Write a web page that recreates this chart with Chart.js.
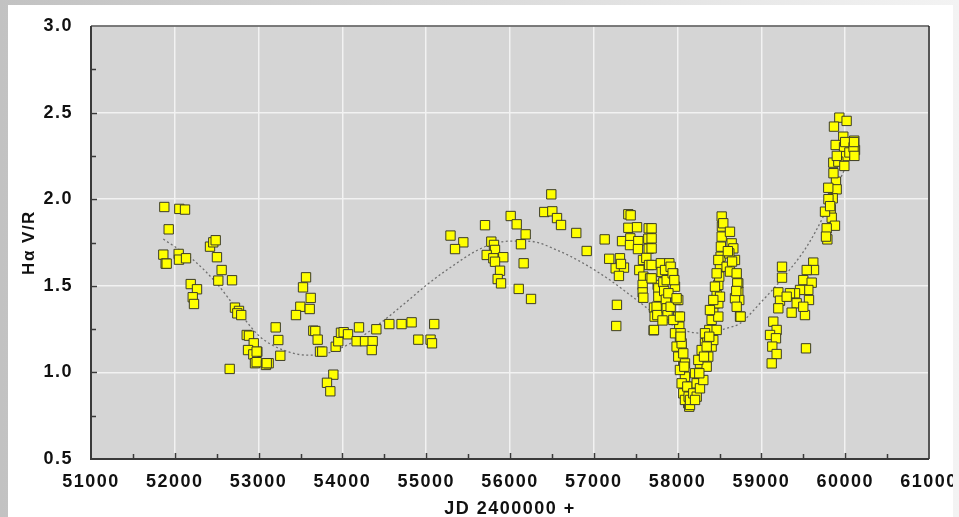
<!DOCTYPE html>
<html>
<head>
<meta charset="utf-8">
<script src="https://cdn.jsdelivr.net/npm/chart.js@4.4.1/dist/chart.umd.min.js"></script>
<style>
    html, body {
        margin: 0;
        padding: 0;
        width: 959px;
        height: 517px;
        overflow: hidden;
        background: linear-gradient(to right, #c2c2c2, #f3f3f3);
    }
    #panel {
        position: absolute;
        left: 8px;
        top: 5px;
        width: 945px;
        height: 512px;
        background: #ffffff;
    }
</style>
</head>
<body>
<div id="panel"><canvas id="vrChart" width="945" height="512"></canvas></div>
<script>
// Hα V/R measurements (JD - 2400000, V/R ratio)
const obsJd = [
    // 2001-2004
    51875, 52054, 52122, 51927, 51863, 51891, 51903, 52046, 52050, 52134,
    52190, 52265, 52214, 52229, 52420, 52459, 52488, 52503, 52559, 52519,
    52683, 52718, 52766, 52746, 52793, 52655, 52858, 52885, 52942, 52874,
    52985, 52937, 52957, 52977, 53088, 53120, 53235, 53204, 53259, 52977, 53097,
    // 2005-2010
    53566, 53530, 53622, 53498, 53610, 53446, 53653, 53677, 53705, 53733,
    53760, 53892, 53816, 53856, 53920, 53951, 53983, 54015, 54067, 54198,
    54170, 54270, 54361, 54350, 54405, 54560, 54706, 54826, 54906, 55052,
    55069, 55096, 55290,
    // 2010-2015
    55443, 55344, 55702, 55777, 55809, 55821, 55722, 55801, 55920, 55821,
    55881, 55853, 55893, 56008, 56080, 56187, 56131, 56163, 56104, 56251,
    56493, 56409, 56505, 56561, 56609, 56791, 56915, 57130,
    // 2015-2017
    57412, 57440, 57412, 57516, 57655, 57337, 57436, 57432, 57531, 57527,
    57651, 57655, 57184, 57312, 57261, 57360, 57300, 57324, 57587, 57627,
    57659, 57543, 57591, 57671, 57583, 57583, 57591, 57762, 57718, 57750,
    57726, 57276, 57268, 57714, 57797, 57690, 57690, 57690, 57690, 57690,
    57770, 57770, 57750, 57758, 57718, 57800, 57810, 57830, 57840, 57860,
    57870, 57880, 57820,
    // 2017-2019 dip, descending side
    57901, 57949, 57969, 57988, 58008, 58020, 58028, 58048, 58060, 58068,
    58088, 58100, 58108, 58127, 58139,
    57850, 57870, 57890, 57917, 57949, 57969, 57988, 58008, 58028, 58048,
    58068, 58088,
    58008, 58028, 58036, 58048, 58068, 58088,
    57917, 57941, 57961, 57988, 58036, 58080, 58116, 58132, 58148,
    // rising side
    58148, 58187, 58228, 58247, 58267, 58299, 58327, 58355, 58378, 58406,
    58426, 58446, 58466, 58486, 58497, 58505, 58513, 58517, 58526, 58529, 58526,
    58228, 58267, 58307, 58347, 58366, 58406, 58426, 58466, 58486, 58486, 58506,
    58208, 58247, 58287, 58327, 58386, 58426, 58446, 58466, 58486,
    58208, 58259, 58315, 58347, 58378,
    // second maximum
    58545, 58625, 58645, 58665, 58685, 58617, 58585, 58625, 58705, 58724,
    58724, 58736, 58685, 58705, 58745, 58712, 58752, 58600, 58650, 58700,
    // 2020-2021
    59246, 59246, 59619, 59628, 59541, 59500, 59600, 59560, 59568, 59461,
    59401, 59421, 59361, 59520, 59500, 59202, 59222, 59202, 59142, 59182,
    59103, 59174, 59130, 59182, 59123, 59532, 59341, 59302,
    // 2022-2023
    59930, 60017, 59866, 59977, 60108, 60117, 59886, 59986, 59998, 59858,
    59918, 59990, 59890, 59898, 59798, 59851, 59827, 59839, 59759, 59878,
    59779, 59787, 59771, 59800, 59820, 59860, 59900, 60000, 60050, 60100,
    60110, 60105
];
const obsVr = [
    1.955, 1.944, 1.940, 1.826, 1.680, 1.628, 1.628, 1.684, 1.651, 1.659,
    1.510, 1.480, 1.434, 1.395, 1.726, 1.751, 1.763, 1.665, 1.591, 1.530,
    1.532, 1.374, 1.355, 1.341, 1.331, 1.020, 1.216, 1.212, 1.168, 1.129,
    1.119, 1.104, 1.053, 1.059, 1.043, 1.053, 1.187, 1.260, 1.096, 1.120, 1.053,
    1.549, 1.491, 1.430, 1.379, 1.366, 1.331, 1.241, 1.239, 1.189, 1.120,
    1.120, 0.987, 0.940, 0.891, 1.148, 1.180, 1.229, 1.232, 1.220, 1.260,
    1.180, 1.180, 1.180, 1.129, 1.249, 1.279, 1.279, 1.289, 1.189, 1.189,
    1.168, 1.279, 1.790,
    1.751, 1.712, 1.850, 1.755, 1.736, 1.707, 1.678, 1.659, 1.665, 1.639,
    1.587, 1.539, 1.514, 1.903, 1.855, 1.797, 1.740, 1.630, 1.482, 1.424,
    2.028, 1.926, 1.930, 1.891, 1.851, 1.805, 1.701, 1.768,
    1.913, 1.907, 1.835, 1.838, 1.832, 1.758, 1.774, 1.735, 1.758, 1.712,
    1.772, 1.714, 1.656, 1.659, 1.601, 1.605, 1.557, 1.626, 1.649, 1.661,
    1.620, 1.591, 1.553, 1.543, 1.505, 1.462, 1.431, 1.505, 1.374, 1.331,
    1.322, 1.390, 1.268, 1.243, 1.437, 1.832, 1.774, 1.716, 1.620, 1.543,
    1.485, 1.437, 1.379, 1.331, 1.245, 1.630, 1.580, 1.520, 1.470, 1.420,
    1.370, 1.330, 1.300,
    1.630, 1.572, 1.495, 1.418, 1.322, 1.264, 1.206, 1.149, 1.091, 1.033,
    0.975, 0.918, 0.860, 0.822, 0.802,
    1.591, 1.533, 1.457, 1.379, 1.303, 1.226, 1.149, 1.091, 1.014, 0.937,
    0.879, 0.841,
    1.418, 1.322, 1.226, 1.168, 1.110, 1.052,
    1.610, 1.572, 1.533, 1.428, 1.206, 1.033, 0.918, 0.860, 0.812,
    0.841, 0.879, 0.937, 0.995, 1.052, 1.110, 1.168, 1.206, 1.245, 1.303,
    1.360, 1.399, 1.447, 1.505, 1.553, 1.610, 1.668, 1.726, 1.784, 1.842, 1.900,
    0.860, 0.908, 0.956, 1.033, 1.091, 1.149, 1.187, 1.245, 1.322, 1.399, 1.437,
    0.995, 1.072, 1.129, 1.226, 1.360, 1.418, 1.495, 1.572, 1.649,
    0.841, 0.995, 1.091, 1.149, 1.206,
    1.861, 1.812, 1.745, 1.716, 1.649, 1.687, 1.610, 1.582, 1.572, 1.514,
    1.466, 1.418, 1.428, 1.379, 1.322, 1.514, 1.322, 1.700, 1.640, 1.470,
    1.610, 1.547, 1.634, 1.591, 1.591, 1.533, 1.518, 1.476, 1.418, 1.476,
    1.457, 1.399, 1.345, 1.331, 1.379, 1.462, 1.414, 1.370, 1.293, 1.245,
    1.216, 1.197, 1.149, 1.106, 1.052, 1.139, 1.457, 1.437,
    2.471, 2.452, 2.419, 2.361, 2.338, 2.284, 2.313, 2.300, 2.249, 2.211,
    2.217, 2.192, 2.101, 2.057, 2.066, 2.005, 1.943, 1.893, 1.928, 1.847,
    1.832, 1.768, 1.784, 2.000, 1.960, 2.150, 2.250, 2.330, 2.270, 2.300,
    2.250, 2.330
];

// smooth fitted trend (dotted curve)
const fitJd = [51863, 52221, 52500, 52778, 53017, 53295, 53574, 53812, 54130, 54449,
    54767, 55006, 55245, 55682, 56000, 56239, 56557, 56875, 57193, 57512,
    57750, 58068, 58307, 58586, 58745, 58983, 59302, 59541, 59739, 59898, 60097];
const fitVr = [1.770, 1.649, 1.514, 1.341, 1.206, 1.129, 1.100, 1.110, 1.177, 1.283,
    1.408, 1.505, 1.591, 1.722, 1.758, 1.757, 1.707, 1.630, 1.533, 1.418,
    1.331, 1.245, 1.226, 1.255, 1.283, 1.399, 1.572, 1.726, 1.900, 2.072, 2.280];

const xMin = 51000, xMax = 61000, xStep = 500;
const yMin = 0.5, yMax = 3.0, yStep = 0.25;

const tickFont = { family: "'Liberation Sans', Arial, sans-serif", size: 18, weight: 'bold' };

// grey plot background, frame and inward tick marks
const framePlugin = {
    id: 'frame',
    beforeDraw(chart) {
        const { ctx, chartArea: a } = chart;
        ctx.letterSpacing = '1.5px';
        ctx.save();
        ctx.fillStyle = '#d5d5d5';
        ctx.fillRect(a.left, a.top, a.right - a.left, a.bottom - a.top);
        ctx.restore();
    },
    afterDraw(chart) {
        const { ctx, chartArea: a, scales } = chart;
        ctx.save();
        ctx.strokeStyle = '#3a3a3a';
        ctx.lineWidth = 1.5;
        scales.x.ticks.forEach(t => {
            if (t.value <= xMin || t.value >= xMax) return;
            const px = Math.round(scales.x.getPixelForValue(t.value)) + 0.5;
            const len = t.value % 1000 === 0 ? 6 : 5;
            ctx.beginPath();
            ctx.moveTo(px, a.bottom);
            ctx.lineTo(px, a.bottom - len);
            ctx.stroke();
        });
        scales.y.ticks.forEach(t => {
            if (t.value <= yMin || t.value >= yMax) return;
            const py = Math.round(scales.y.getPixelForValue(t.value)) + 0.5;
            const len = Math.abs(t.value * 2 - Math.round(t.value * 2)) < 1e-6 ? 6 : 5;
            ctx.beginPath();
            ctx.moveTo(a.left, py);
            ctx.lineTo(a.left + len, py);
            ctx.stroke();
        });
        // top and right edges
        ctx.lineWidth = 1.5;
        ctx.strokeStyle = '#555555';
        ctx.beginPath();
        ctx.moveTo(a.left, a.top);
        ctx.lineTo(a.right, a.top);
        ctx.stroke();
        ctx.strokeStyle = '#222222';
        ctx.beginPath();
        ctx.moveTo(a.right, a.top);
        ctx.lineTo(a.right, a.bottom);
        ctx.stroke();
        // left and bottom axes
        ctx.lineWidth = 2;
        ctx.strokeStyle = '#3a3a3a';
        ctx.beginPath();
        ctx.moveTo(a.left, a.top);
        ctx.lineTo(a.left, a.bottom);
        ctx.lineTo(a.right, a.bottom);
        ctx.stroke();
        ctx.restore();
    }
};

const ctx = document.getElementById("vrChart");
new Chart(ctx, {
    type: "scatter",
    data: {
        datasets: [
            {
                label: "Hα V/R",
                data: obsJd.map((jd, i) => ({ x: jd, y: obsVr[i] })),
                pointStyle: "rect",
                pointRadius: 6.6,
                backgroundColor: "#ffff00",
                borderColor: "#3c3c28",
                borderWidth: 1
            },
            {
                type: "line",
                label: "fit",
                data: fitJd.map((jd, i) => ({ x: jd, y: fitVr[i] })),
                showLine: true,
                pointRadius: 0,
                borderColor: "#707070",
                borderWidth: 1.3,
                borderDash: [2, 2.5],
                cubicInterpolationMode: "monotone",
                fill: false
            }
        ]
    },
    options: {
        responsive: false,
        animation: false,
        events: [],
        layout: { padding: { top: 21, right: 24, left: 0, bottom: 0 } },
        plugins: {
            legend: { display: false },
            tooltip: { enabled: false }
        },
        scales: {
            x: {
                type: "linear",
                min: xMin,
                max: xMax,
                border: { display: false },
                grid: {
                    color: c => (c.tick && c.tick.value % 1000 === 0) ? "#f2f2f2" : "rgba(0,0,0,0)",
                    lineWidth: 1.5,
                    drawTicks: false,
                    tickLength: 0
                },
                ticks: {
                    stepSize: xStep,
                    autoSkip: false,
                    maxRotation: 0,
                    padding: 12,
                    color: "#111111",
                    font: tickFont,
                    callback: v => (v % 1000 === 0 ? String(v) : "")
                },
                title: {
                    display: true,
                    text: "JD 2400000 +",
                    color: "#111111",
                    font: { family: tickFont.family, size: 18, weight: "bold" },
                    padding: { top: 0, bottom: -3 }
                },
                afterFit(scale) {
                    scale.height = 58;
                    scale.paddingLeft = 0;
                    scale.paddingRight = 0;
                }
            },
            y: {
                type: "linear",
                min: yMin,
                max: yMax,
                border: { display: false },
                grid: {
                    color: c => (c.tick && Math.abs(c.tick.value * 2 - Math.round(c.tick.value * 2)) < 1e-6) ? "#f2f2f2" : "rgba(0,0,0,0)",
                    lineWidth: 1.5,
                    drawTicks: false,
                    tickLength: 0
                },
                ticks: {
                    stepSize: yStep,
                    autoSkip: false,
                    padding: 18,
                    color: "#111111",
                    font: tickFont,
                    callback: v => (Math.abs(v * 2 - Math.round(v * 2)) < 1e-6 ? v.toFixed(1) : "")
                },
                title: {
                    display: true,
                    text: "Hα V/R",
                    color: "#111111",
                    font: { family: tickFont.family, size: 17, weight: "bold" },
                    padding: { top: 11, bottom: 0 }
                },
                afterFit(scale) {
                    scale.width = 83;
                    scale.paddingTop = 0;
                    scale.paddingBottom = 0;
                }
            }
        }
    },
    plugins: [framePlugin]
});
</script>
</body>
</html>
